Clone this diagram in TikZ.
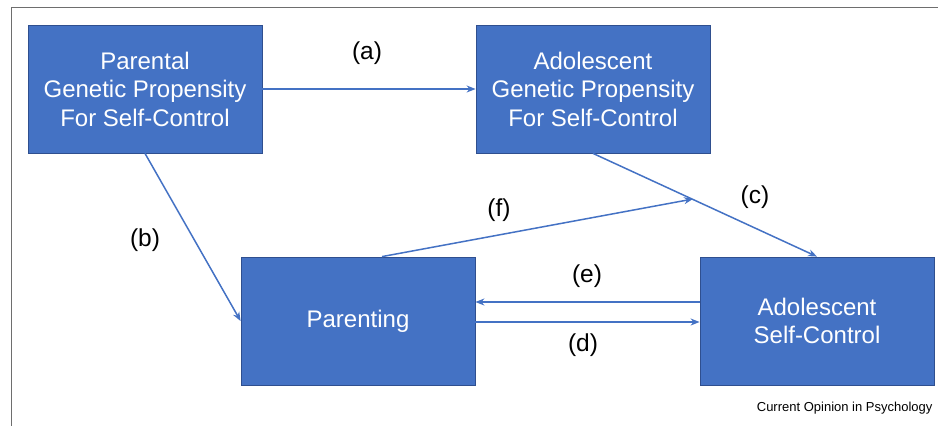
\documentclass[tikz,border=0pt]{standalone}
\usepackage{fontspec}
\setmainfont{Liberation Sans}
\usetikzlibrary{arrows.meta}
\definecolor{boxblue}{HTML}{4472C4}
\definecolor{boxedge}{HTML}{2F4F8F}
\definecolor{framegray}{HTML}{6E6E6E}
\tikzset{
  box/.style={draw=boxedge, line width=0.8pt, fill=boxblue, text=white, minimum width=234pt, minimum height=128pt, inner sep=0pt, align=center, font=\fontsize{24}{28.5}\selectfont},
  conn/.style={draw=boxblue, line width=1.5pt, -{Stealth[length=9pt,width=7pt]}},
  lab/.style={font=\fontsize{24.5}{28}\selectfont, text=black}
}
\begin{document}
\begin{tikzpicture}[x=1pt,y=-1pt]
\useasboundingbox (0,0) rectangle (938,426);
\draw[framegray, line width=1pt] (11,426) -- (11,7) -- (938,7);
\node[box] (pg) at (145,89) {Parental\\Genetic Propensity\\For Self-Control};
\node[box] (ag) at (593,89) {Adolescent\\Genetic Propensity\\For Self-Control};
\node[box] (par) at (358,321) {Parenting};
\node[box] (asc) at (817,321) {Adolescent\\Self-Control};
\coordinate (fend) at (693,199);
\draw[conn] (pg.east) -- (ag.west);
\draw[conn] (pg.south) -- (par.west);
\draw[conn] (ag.south) -- (asc.north);
\draw[conn] (par.north) ++(24,0) coordinate (fstart) -- (fend);
\draw[conn] ([yshift=19pt]asc.west) -- ([yshift=19pt]par.east);
\draw[conn] ([yshift=-1pt]par.east) -- ([yshift=-1pt]asc.west);
\node[lab] (la) at (367,53) {(a)};
\node[lab] (lb) at (145,240) {(b)};
\node[lab] (lc) at (755,197) {(c)};
\node[lab] (lf) at (499,210) {(f)};
\node[lab] (le) at (587,276) {(e)};
\node[lab] (ld) at (583,345) {(d)};
\node[font=\fontsize{13}{15}\selectfont, anchor=east] (src) at (936,408) {Current Opinion in Psychology};
\end{tikzpicture}
\end{document}
